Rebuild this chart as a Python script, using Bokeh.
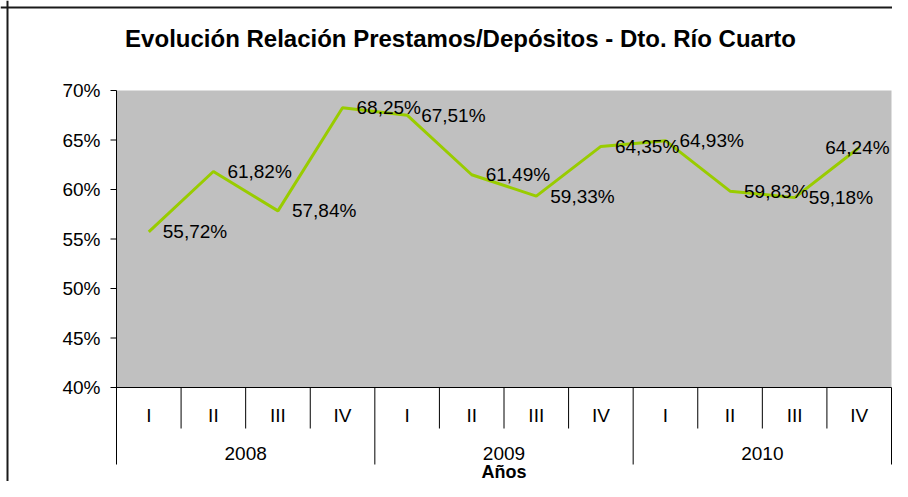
from bokeh.plotting import figure
from bokeh.models import Range1d, Span
from bokeh.core.properties import value
from bokeh.embed import file_html
from bokeh.resources import INLINE

# ---- data ----
years = ["2008", "2009", "2010"]
quarters = ["I", "II", "III", "IV"]
ratios = [55.72, 61.82, 57.84, 68.25, 67.51, 61.49, 59.33, 64.35, 64.93, 59.83, 59.18, 64.24]
y_ticks = [40, 45, 50, 55, 60, 65, 70]
title_text = "Evolución Relación Prestamos/Depósitos - Dto. Río Cuarto"
x_title = "Años"

# ---- layout (canvas pixels) ----
W, H = 892, 481
PLOT_L, PLOT_R = 116, 891
Y_TOP_PX, Y_BOT_PX = 90, 387
n = len(ratios)
px_x = (PLOT_R - PLOT_L) / n
x_start = 0.5 - PLOT_L / px_x
x_end = x_start + W / px_x
ymax, ymin = max(y_ticks), min(y_ticks)
px_y = (Y_BOT_PX - Y_TOP_PX) / (ymax - ymin)
y_end = ymax + Y_TOP_PX / px_y
y_start = y_end - H / px_y


def ypix(py):
    return y_end - py / px_y


def xpix(px):
    return x_start + px / px_x


FONT = value("Liberation Sans")

p = figure(width=W, height=H, output_backend="svg", toolbar_location=None,
           x_range=Range1d(x_start, x_end), y_range=Range1d(y_start, y_end),
           min_border=0, min_border_left=0, min_border_right=0,
           min_border_top=0, min_border_bottom=0)
p.axis.visible = False
p.xgrid.visible = False
p.ygrid.visible = False
p.outline_line_color = None
p.background_fill_color = "white"
p.border_fill_color = "white"

# plot area
left_edge = 0.5
right_edge = n + 0.5
p.quad(left=[left_edge], right=[right_edge], bottom=[ymin], top=[ymax],
       fill_color="#C0C0C0", line_color=None)

# outer border (top and left)
p.add_layout(Span(location=ypix(7), dimension="width", line_color="#1a1a1a", line_width=2))
p.add_layout(Span(location=xpix(7), dimension="height", line_color="#1a1a1a", line_width=2))

# y axis
p.segment(x0=[left_edge], y0=[ypix(464)], x1=[left_edge], y1=[ymax], line_color="black", line_width=1)
p.segment(x0=[left_edge - 6 / px_x] * len(y_ticks), y0=y_ticks,
          x1=[left_edge] * len(y_ticks), y1=y_ticks, line_color="black", line_width=1)
p.text(x=[left_edge] * len(y_ticks), y=y_ticks, text=[f"{t}%" for t in y_ticks],
       x_offset=-16, text_align="right", text_baseline="middle",
       text_font=FONT, text_font_size="19px", text_color="black")

# x axis line
p.segment(x0=[left_edge], y0=[ymin], x1=[right_edge], y1=[ymin], line_color="black", line_width=1)

# category labels
xs = list(range(1, n + 1))
q_labels = [quarters[i % len(quarters)] for i in range(n)]
p.text(x=xs, y=[ypix(415)] * n, text=q_labels, text_align="center", text_baseline="middle",
       text_font=FONT, text_font_size="19px", text_color="black")

# separators
short_x = [i + 0.5 for i in range(1, n) if i % len(quarters) != 0]
long_x = [i * len(quarters) + 0.5 for i in range(len(years) + 1)]
p.segment(x0=short_x, y0=[ymin] * len(short_x), x1=short_x, y1=[ypix(428)] * len(short_x),
          line_color="black", line_width=1)
p.segment(x0=long_x[1:], y0=[ymin] * (len(long_x) - 1), x1=long_x[1:],
          y1=[ypix(464)] * (len(long_x) - 1), line_color="black", line_width=1)

year_x = [i * len(quarters) + (len(quarters) + 1) / 2 for i in range(len(years))]
p.text(x=year_x, y=[ypix(453)] * len(years), text=years, text_align="center", text_baseline="middle",
       text_font=FONT, text_font_size="19px", text_color="black")

p.text(x=[(left_edge + right_edge) / 2], y=[ypix(471)], text=[x_title], text_align="center",
       text_baseline="middle", text_font=FONT, text_font_size="18px", text_font_style="bold",
       text_color="black")

# series
p.line(xs, ratios, line_color="#99CC00", line_width=3)
label_offsets = [14] * (n - 1) + [-34]  # last label pulled inside the chart, as in the original
p.text(x=xs, y=ratios, text=[f"{v:.2f}%".replace(".", ",") for v in ratios], x_offset=label_offsets,
       text_align="left", text_baseline="middle", text_font=FONT, text_font_size="19px",
       text_color="black")

# title
p.text(x=[xpix(460)], y=[ypix(38)], text=[title_text], text_align="center", text_baseline="middle",
       text_font=FONT, text_font_size="24px", text_font_style="bold", text_color="black")

open("out.html", "w").write(file_html(p, INLINE))
